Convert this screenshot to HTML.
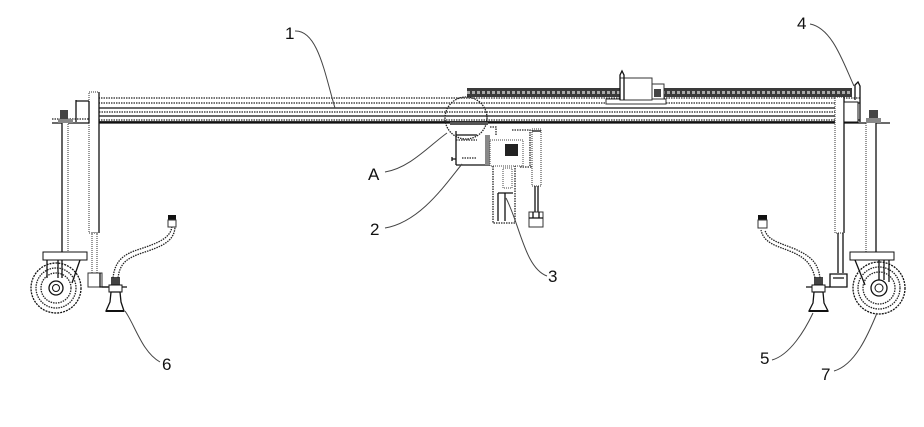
<!DOCTYPE html>
<html><head><meta charset="utf-8">
<style>
html,body{margin:0;padding:0;background:#fff}
svg{display:block}
text{font-family:"Liberation Sans",sans-serif;font-size:17px;fill:#111}
.s{fill:none;stroke:#111;stroke-width:1.3}
.d{fill:none;stroke:#222;stroke-width:1.3;stroke-dasharray:1.500 1}
.l{fill:none;stroke:#444;stroke-width:1}
.f{fill:#fff}
</style></head>
<body>
<svg width="924" height="427" viewBox="0 0 924 427" xmlns="http://www.w3.org/2000/svg">
<!-- beam -->
<path class="d" d="M96 98H860M96 103H860M99 112H835"/>
<path class="s" d="M99 108H835M99 116H835M52 123H89M99 123H835M844 123H890"/>
<path class="d" d="M52 119H89M96 120H860"/>
<path d="M99 122H835" stroke="#111" stroke-width="1.800" fill="none"/>
<!-- rack -->
<rect x="467" y="88" width="385" height="9" fill="#3a3a3a"/>
<path d="M467 92.500H852" stroke="#aaa" stroke-width="3" stroke-dasharray="3 2" fill="none"/>
<!-- carriage -->
<rect class="f" x="606" y="99" width="60" height="5" stroke="#333"/>
<rect class="f" x="620" y="78" width="32" height="22" stroke="#333"/>
<path class="s" d="M620 100V75L622 71L624 75V100"/>
<rect class="f" x="652" y="84" width="12" height="15" stroke="#333"/>
<rect x="654" y="89" width="7" height="8" fill="#444"/>
<!-- circle A -->
<circle class="d" cx="466" cy="118" r="21"/>
<rect x="450" y="122" width="38" height="3" fill="#555"/>
<!-- left column -->
<rect class="f" x="89" y="92" width="10" height="141" stroke="#333" stroke-dasharray="1 1"/>
<path class="s" d="M99 92V233"/>
<path class="s" d="M76 100V122M76 101H89M89 101V123"/>
<rect class="f" x="92" y="233" width="5" height="42" stroke="#333" stroke-dasharray="1 1"/>
<rect class="f" x="88" y="273" width="14" height="14" stroke="#333"/>
<path class="s" d="M100 273V287H108"/>
<!-- left outer leg -->
<rect x="62" y="122" width="6" height="131" fill="#fff" stroke="#333" stroke-width="1" stroke-dasharray="1 1"/>
<rect x="58" y="119" width="15" height="4" fill="#888"/>
<rect x="60" y="110" width="8" height="9" fill="#444"/>
<path class="s" d="M62 123V252"/>
<!-- left wheel -->
<rect class="f" x="43" y="252" width="44" height="8" stroke="#111"/>
<circle class="s" cx="56" cy="288" r="25" stroke-dasharray="2 1"/>
<circle class="d" cx="56" cy="288" r="20"/>
<circle class="d" cx="56" cy="288" r="15"/>
<path class="s" d="M47 260V278M80 260L72 283M58 260V278M62 260V278"/>
<circle class="s" cx="56" cy="288" r="7" fill="#fff"/>
<circle cx="56" cy="288" r="3.500" fill="#fff" stroke="#111"/>
<!-- left jack 6 -->
<path class="s" d="M102 287H127"/>
<rect x="111" y="277" width="9" height="8" fill="#444"/>
<rect class="f" x="109" y="285" width="13" height="7" stroke="#111"/>
<path class="s" d="M111 292L110 302L106 311H124L121 302L120 292Z"/>
<path d="M106 311H124" stroke="#111" stroke-width="2" fill="none"/>
<path class="d" d="M113 278C115 260 124 254 140 249C158 243 171 238 172 226"/>
<path class="d" d="M118 278C120 262 128 258 142 253C160 247 175 242 175 226"/>
<rect x="168" y="215" width="8" height="5" fill="#111"/>
<rect class="f" x="168" y="220" width="8" height="7" stroke="#333"/>
<!-- center assembly -->
<path class="s" d="M456 131V165M456 135H477M456 165H490"/>
<path class="d" d="M456 140H477M462 158H477"/>
<path class="s" d="M452 159H456M452 157V161"/>
<rect x="485" y="135" width="5" height="30" fill="#888"/>
<rect class="f" x="490" y="140" width="33" height="26" stroke="#444" stroke-dasharray="1 1"/>
<rect x="505" y="144" width="13" height="12" fill="#222"/>
<path class="d" d="M512 130H530V167M520 167H532M490 127H496V135"/>
<path class="d" d="M493 166V223H515V166"/>
<path class="s" d="M498 193H513M498 193V221M505 193V221"/>
<rect class="f" x="503" y="168" width="9" height="20" stroke="#444" stroke-dasharray="1 1"/>
<rect x="532" y="129" width="9" height="57" fill="#fff" stroke="#333" stroke-dasharray="1 1"/>
<path class="s" d="M532 131H541"/>
<path class="s" d="M535 186V212M538 186V212"/>
<rect class="f" x="529" y="212" width="14" height="15" stroke="#333"/>
<path class="s" d="M529 218H543M533 212V218M539 212V218"/>
<!-- right column -->
<rect class="f" x="835" y="97" width="9" height="136" stroke="#333" stroke-dasharray="1 1"/>
<path class="s" d="M844 97V233"/>
<rect class="f" x="844" y="102" width="14" height="20" stroke="#111"/>
<path class="s" d="M855 100V85L858 82L860 86V122"/>
<path class="s" d="M838 233V273M843 233V273"/>
<path class="s" d="M830 287V274H847V287ZM833 278H844"/>
<!-- right outer leg -->
<rect x="866" y="122" width="10" height="131" fill="#fff" stroke="#333" stroke-dasharray="1 1"/>
<path class="s" d="M876 122V252"/>
<rect x="866" y="118" width="15" height="5" fill="#888"/>
<rect x="869" y="110" width="9" height="8" fill="#444"/>
<!-- right wheel -->
<rect class="f" x="850" y="252" width="44" height="8" stroke="#111"/>
<circle class="s" cx="879" cy="288" r="26" stroke-dasharray="2 1"/>
<circle class="d" cx="879" cy="288" r="21"/>
<circle class="d" cx="879" cy="288" r="16"/>
<path class="s" d="M855 260L865 285M879 260V280M884 260V280M889 260V282"/>
<circle class="s" cx="879" cy="288" r="8" fill="#fff"/>
<circle cx="879" cy="288" r="4" fill="#fff" stroke="#111"/>
<!-- right jack 5 -->
<path class="s" d="M806 287H830"/>
<rect x="814" y="277" width="9" height="8" fill="#444"/>
<rect class="f" x="812" y="285" width="13" height="7" stroke="#111"/>
<path class="s" d="M814 292L813 303L809 311H828L824 303L823 292Z"/>
<path d="M809 311H828" stroke="#111" stroke-width="2" fill="none"/>
<path class="d" d="M815 278C812 265 806 258 792 252C778 246 764 244 761 230"/>
<path class="d" d="M820 278C818 262 810 256 795 249C780 243 767 240 765 230"/>
<rect x="758" y="215" width="9" height="5" fill="#111"/>
<rect class="f" x="758" y="220" width="9" height="8" stroke="#333"/>
<!-- leaders -->
<path class="l" d="M295 31C318 30 325 75 335 108"/>
<path class="l" d="M810 24C832 28 843 62 854 86"/>
<path class="l" d="M385 172C410 168 430 145 447 133"/>
<path class="l" d="M385 228C420 222 445 185 462 164"/>
<path class="l" d="M547 276C525 268 520 225 506 198"/>
<path class="l" d="M160 362C142 352 135 325 125 311"/>
<path class="l" d="M772 360C790 355 805 330 813 313"/>
<path class="l" d="M834 371C855 365 868 335 877 313"/>
<!-- labels -->
<text x="285" y="39">1</text>
<text x="797" y="29">4</text>
<text x="368" y="180">A</text>
<text x="370" y="235">2</text>
<text x="548" y="282">3</text>
<text x="162" y="370">6</text>
<text x="760" y="364">5</text>
<text x="821" y="380">7</text>
</svg>
</body></html>
